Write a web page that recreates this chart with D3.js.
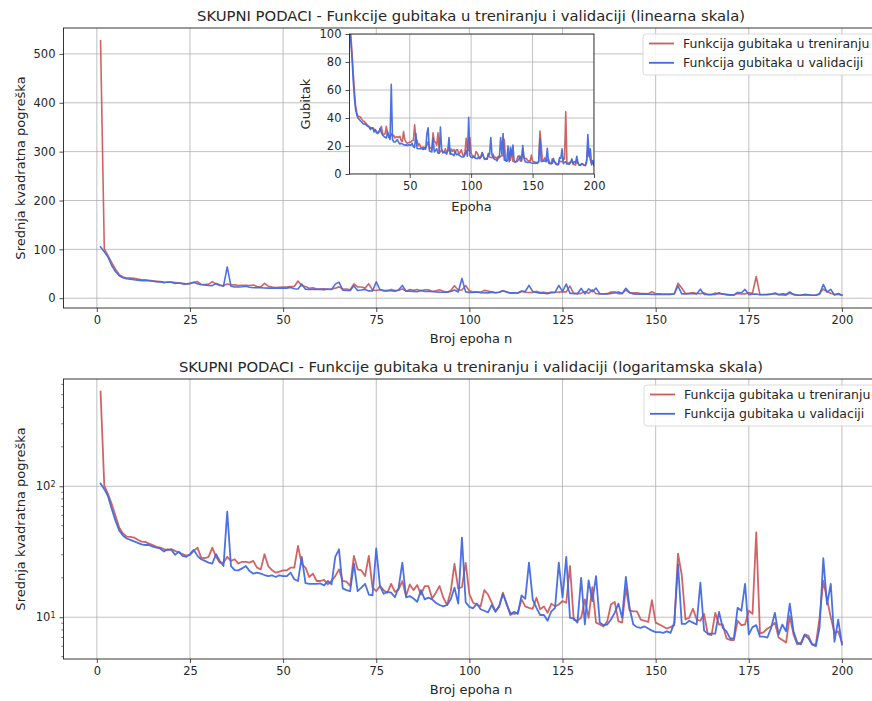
<!DOCTYPE html>
<html>
<head>
<meta charset="utf-8">
<script src="https://cdn.jsdelivr.net/npm/d3@7"></script>
<style>
  html, body { margin: 0; padding: 0; background: #fff; }
  svg { display: block; font-family: "DejaVu Sans", sans-serif; }
</style>
</head>
<body>
<svg id="chart" width="872" height="701"></svg>
<script>
// ---------------- DATA ----------------
const trainLoss = [
  527, 101, 87, 73, 59.5, 48.4, 43.6, 41.3, 41, 40.6,
  39, 37.8, 37.6, 36.5, 35.6, 34.5, 34, 33.1, 32.5, 33.1,
  32.1, 31.2, 30.3, 29.5, 29.9, 32.1, 34, 28.5, 28.2, 28.9,
  34, 28.9, 26.1, 26.1, 28.9, 26.9, 27.7, 25.7, 26.5, 26.5,
  26.1, 26.9, 23.9, 23.2, 30.3, 24.6, 22.9, 21.9, 22.3, 22.8,
  22.8, 23.9, 23.9, 35.1, 25.4, 23.9, 20.3, 21.5, 18.9, 18.9,
  19.3, 17.8, 18.9, 20.6, 23.2, 18.9, 18.7, 17.3, 29.4, 23.2,
  22.8, 20.6, 29.4, 16.8, 15.8, 17.3, 16.1, 15.4, 18.0, 15.6,
  16.3, 18.9, 14.5, 17.8, 16.1, 17.6, 14.9, 17.3, 17.3, 13.9,
  15.4, 17.3, 14.1, 12.4, 15.8, 25.5, 16.5, 17.0, 26, 15,
  12.9, 12.5, 12.1, 16.1, 14.9, 12.9, 11.1, 12.1, 15.4, 12.5,
  10.8, 10.6, 10.8, 13.7, 12.1, 11.8, 11.6, 14.1, 11.5, 12.1,
  10.8, 12.7, 12.1, 12.5, 13.3, 12.9, 24.6, 9.6, 9.4, 9.9,
  13.7, 9.9, 17.0, 9.1, 8.8, 8.5, 9.3, 12.5, 13.1, 9.3,
  9.1, 16.8, 11.3, 11.1, 11.1, 9.6, 9.4, 9.2, 13.5, 9.1,
  8.8, 8.5, 8.2, 8.4, 8.7, 30.6, 21, 9.6, 9.9, 11.6,
  9.6, 9.4, 10.6, 7.4, 7.3, 10.8, 8.8, 8.8, 6.9, 6.7,
  6.7, 9.4, 8.7, 8.8, 11.2, 10.6, 44.5, 7.5, 7.7, 8.2,
  8.5, 9.1, 7.0, 6.7, 6.4, 10.2, 7.4, 6.2, 6.4, 7.4,
  7.2, 6.2, 6.2, 9.9, 18.9, 13.7, 10.0, 7.6, 7.8, 6.4
];
const valLoss = [
  105, 95, 84, 67, 54.6, 46, 42, 39.9, 39, 37.9,
  37, 36, 35.6, 35.6, 34.6, 34.0, 33.5, 31.7, 33, 32.7,
  30, 31.7, 29.4, 28.9, 30.3, 32.7, 29.4, 27.7, 26.9, 26.1,
  25.7, 30.3, 26.9, 24.6, 64, 24.6, 22.9, 22.8, 23.6, 24.6,
  22.5, 21.5, 21.9, 21.5, 21, 20.6, 20.9, 20.3, 20.9, 20.6,
  20.6, 21.9, 19.5, 18.9, 28.9, 18.2, 18.0, 18.0, 18.0, 18.1,
  17.5, 18.9, 17.8, 28.9, 33, 16.6, 16.1, 15.8, 25.7, 15.8,
  16.8, 18.0, 14.9, 14.7, 33.6, 17.3, 15.1, 15.6, 15.4, 14.2,
  16.8, 26.1, 14.2, 14.5, 13.9, 13.1, 16.1, 13.7, 14.1, 13.7,
  12.9, 12.4, 12.1, 12.4, 13.7, 16.8, 12.7, 40.5, 13.0, 12.0,
  11.7, 12.7, 11.5, 11.2, 10.9, 12.4, 11.0, 12.1, 15.1, 12.7,
  10.4, 11.0, 10.6, 14.7, 13.8, 26.1, 13.7, 11.8, 10.4, 10.4,
  9.4, 11.1, 11.8, 26.1, 14.1, 28.9, 9.9, 9.8, 9.1, 20.0,
  8.8, 19.1, 13.3, 20.6, 9.1, 8.7, 8.8, 9.6, 10.8, 12.7,
  9.9, 20.3, 11.8, 8.8, 8.4, 8.3, 8.5, 8.2, 7.9, 7.7,
  7.7, 7.6, 7.8, 7.6, 9.1, 25.4, 8.9, 8.9, 9.4, 9.1,
  8.8, 18.4, 7.9, 7.5, 7.5, 7.5, 11.0, 8.3, 7.8, 6.9,
  6.9, 11.8, 11.2, 18.0, 7.4, 8.4, 8.7, 7.1, 7.1, 7.0,
  8.3, 10.8, 7.4, 8.8, 7.8, 12.7, 7.8, 6.4, 6.2, 7.3,
  6.9, 6.2, 6.0, 8.3, 28.2, 12.5, 18.0, 6.5, 9.6, 6.2
];
const epochs = trainLoss.map((_, i) => i + 1);

const xTicks = [0, 25, 50, 75, 100, 125, 150, 175, 200];
const yTicksLinear = [0, 100, 200, 300, 400, 500];
const yTicksLog = [10, 100];
const insetXTicks = [50, 100, 150, 200];
const insetYTicks = [0, 20, 40, 60, 80, 100];

const seriesNames = ["Funkcija gubitaka u treniranju", "Funkcija gubitaka u validaciji"];
const seriesColors = ["#cd5c5c", "#4169e1"];
const titleTop = "SKUPNI PODACI - Funkcije gubitaka u treniranju i validaciji (linearna skala)";
const titleBottom = "SKUPNI PODACI - Funkcije gubitaka u treniranju i validaciji (logaritamska skala)";
const xLabel = "Broj epoha n";
const yLabel = "Srednja kvadratna pogreška";
const insetXLabel = "Epoha";
const insetYLabel = "Gubitak";

// ---------------- DRAW ----------------
const svg = d3.select("#chart");
svg.append("rect").attr("width", 872).attr("height", 701).attr("fill", "#fff");

const FS = 11.5;      // tick labels
const FL = 13;        // axis labels
const FLEG = 12.5;    // legend
const FT = 14.8;      // titles
const TXT = "#262626";
const GRID = "#b0b0b0";
const SPINE = "#222";
const series = [trainLoss, valLoss];
const allVals = trainLoss.concat(valLoss);
const vmin = d3.min(allVals), vmax = d3.max(allVals);

const xPad = (200 - 1) * 0.05;
const xDomain = [1 - xPad, 200 + xPad];

function drawAxes(g, x, y, opts) {
  const [x0, x1] = x.range();
  const [y0, y1] = y.range();
  const clipId = opts.clipId;
  g.append("clipPath").attr("id", clipId)
    .append("rect").attr("x", x0).attr("y", y1).attr("width", x1 - x0).attr("height", y0 - y1);
  if (opts.bg) {
    g.append("rect").attr("x", x0).attr("y", y1).attr("width", x1 - x0).attr("height", y0 - y1).attr("fill", "#fff");
  }
  const grid = g.append("g").attr("clip-path", `url(#${clipId})`);
  opts.xTicks.forEach(t => grid.append("line")
    .attr("x1", x(t)).attr("x2", x(t)).attr("y1", y1).attr("y2", y0)
    .attr("stroke", GRID).attr("stroke-width", 0.8));
  opts.yTicks.forEach(t => grid.append("line")
    .attr("x1", x0).attr("x2", x1).attr("y1", y(t)).attr("y2", y(t))
    .attr("stroke", GRID).attr("stroke-width", 0.8));
  const lg = g.append("g").attr("clip-path", `url(#${clipId})`);
  series.forEach((s, si) => {
    const line = d3.line().x((d, i) => x(epochs[i])).y(d => y(d));
    lg.append("path").datum(s).attr("d", line)
      .attr("fill", "none").attr("stroke", seriesColors[si])
      .attr("stroke-width", opts.lw).attr("stroke-linejoin", "round").attr("stroke-linecap", "square")
      .attr("opacity", 0.95);
  });
  const xa = d3.axisBottom(x).tickValues(opts.xTicks).tickSize(4).tickPadding(4).tickFormat(d3.format("d"));
  const gx = g.append("g").attr("transform", `translate(0,${y0})`).call(xa);
  let ya;
  if (opts.log) {
    ya = d3.axisLeft(y).tickValues(opts.yTicks).tickSize(4).tickPadding(4).tickFormat(() => "");
  } else {
    ya = d3.axisLeft(y).tickValues(opts.yTicks).tickSize(4).tickPadding(4).tickFormat(d3.format("d"));
  }
  const gy = g.append("g").attr("transform", `translate(${x0},0)`).call(ya);
  [gx, gy].forEach(a => {
    a.select(".domain").remove();
    a.selectAll("line").attr("stroke", SPINE).attr("stroke-width", 0.8);
    a.selectAll("text").attr("fill", TXT).style("font-size", FS + "px").style("font-family", "DejaVu Sans");
  });
  if (opts.log) {
    gy.selectAll(".tick").each(function(d) {
      const t = d3.select(this).select("text");
      const e = Math.round(Math.log10(d));
      t.text(null);
      t.append("tspan").text("10");
      t.append("tspan").attr("dy", "-0.45em").style("font-size", (FS * 0.7) + "px").text(e);
    });
    const [dmin, dmax] = y.domain();
    const minors = [];
    for (let p = Math.floor(Math.log10(dmin)); p <= Math.ceil(Math.log10(dmax)); p++) {
      for (let m = 2; m <= 9; m++) {
        const v = m * Math.pow(10, p);
        if (v >= dmin && v <= dmax) minors.push(v);
      }
    }
    minors.forEach(v => g.append("line").attr("x1", x0 - 2.3).attr("x2", x0).attr("y1", y(v)).attr("y2", y(v))
      .attr("stroke", SPINE).attr("stroke-width", 0.6));
  }
  g.append("rect").attr("x", x0).attr("y", y1).attr("width", x1 - x0).attr("height", y0 - y1)
    .attr("fill", "none").attr("stroke", SPINE).attr("stroke-width", 0.9);
  return { x0, x1, y0, y1 };
}

function legend(g, left, top) {
  g.append("rect").attr("x", left).attr("y", top).attr("width", 240).attr("height", 41)
    .attr("rx", 3).attr("fill", "#fff").attr("fill-opacity", 0.85)
    .attr("stroke", "#d0d0d0").attr("stroke-width", 0.8);
  seriesNames.forEach((n, i) => {
    const yy = top + 9.5 + i * 19.3;
    g.append("line").attr("x1", left + 6).attr("x2", left + 31).attr("y1", yy).attr("y2", yy)
      .attr("stroke", seriesColors[i]).attr("stroke-width", 1.8);
    g.append("text").attr("x", left + 40).attr("y", yy + 4.4).attr("fill", TXT)
      .style("font-size", FLEG + "px").text(n);
  });
}

// ---------- Top (linear) ----------
const gTop = svg.append("g");
const xTop = d3.scaleLinear().domain(xDomain).range([63.5, 879]);
const linPad = (vmax - vmin) * 0.05;
const yTop = d3.scaleLinear().domain([vmin - linPad, vmax + linPad]).range([308, 28]);
drawAxes(gTop, xTop, yTop, { clipId: "clipTop", xTicks: xTicks, yTicks: yTicksLinear, lw: 1.6 });
gTop.append("text").attr("x", 471).attr("y", 21).attr("text-anchor", "middle").attr("fill", TXT)
  .style("font-size", FT + "px").text(titleTop);
gTop.append("text").attr("x", 471).attr("y", 343).attr("text-anchor", "middle").attr("fill", TXT)
  .style("font-size", FL + "px").text(xLabel);
gTop.append("text").attr("transform", "translate(24.5,168) rotate(-90)").attr("text-anchor", "middle").attr("fill", TXT)
  .style("font-size", FL + "px").text(yLabel);
legend(gTop, 643, 34);

// ---------- Inset ----------
const gIn = svg.append("g");
const xIn = d3.scaleLinear().domain([1, 200]).range([349.5, 594]);
const yIn = d3.scaleLinear().domain([0, 100]).range([174, 34]);
drawAxes(gIn, xIn, yIn, { clipId: "clipIn", xTicks: insetXTicks, yTicks: insetYTicks, lw: 1.6, bg: true });
gIn.append("text").attr("x", 471.5).attr("y", 211).attr("text-anchor", "middle").attr("fill", TXT)
  .style("font-size", FL + "px").text(insetXLabel);
gIn.append("text").attr("transform", "translate(310,104) rotate(-90)").attr("text-anchor", "middle").attr("fill", TXT)
  .style("font-size", FL + "px").text(insetYLabel);

// ---------- Bottom (log) ----------
const gBot = svg.append("g");
const xBot = d3.scaleLinear().domain(xDomain).range([63.5, 879]);
const lmin = Math.log10(vmin), lmax = Math.log10(vmax), lpad = (lmax - lmin) * 0.05;
const yBot = d3.scaleLog().domain([Math.pow(10, lmin - lpad), Math.pow(10, lmax + lpad)]).range([659, 379]);
drawAxes(gBot, xBot, yBot, { clipId: "clipBot", xTicks: xTicks, yTicks: yTicksLog, lw: 1.8, log: true });
gBot.append("text").attr("x", 471).attr("y", 372).attr("text-anchor", "middle").attr("fill", TXT)
  .style("font-size", FT + "px").text(titleBottom);
gBot.append("text").attr("x", 471).attr("y", 694).attr("text-anchor", "middle").attr("fill", TXT)
  .style("font-size", FL + "px").text(xLabel);
gBot.append("text").attr("transform", "translate(24.5,519) rotate(-90)").attr("text-anchor", "middle").attr("fill", TXT)
  .style("font-size", FL + "px").text(yLabel);
legend(gBot, 644, 385);
</script>
</body>
</html>
